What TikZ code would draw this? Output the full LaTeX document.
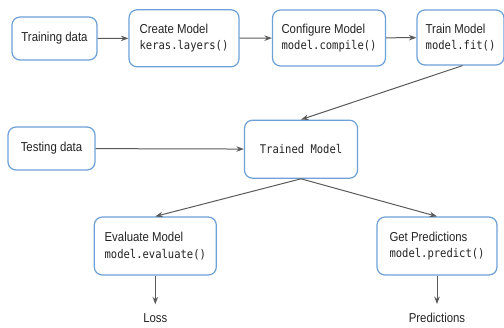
\documentclass[tikz,border=0pt]{standalone}
\usepackage{fontspec}
\setmainfont{Liberation Sans}[FakeStretch=0.88]
\setmonofont{DejaVu Sans Mono}[FakeStretch=0.88]
\usetikzlibrary{arrows.meta}
\definecolor{boxblue}{RGB}{108,160,214}
\definecolor{flowgray}{RGB}{90,90,90}
\definecolor{inkgray}{RGB}{35,35,35}
\newcommand{\apicall}[1]{{\fontsize{12}{16.3}\selectfont\ttfamily #1}}
\tikzset{
  stepbox/.style={draw=boxblue, line width=1.2bp, rounded corners=8bp, fill=white,
    align=left, inner sep=0pt, text=inkgray, font=\fontsize{13}{16.3}\selectfont},
  outlabel/.style={text=inkgray, font=\fontsize{13}{15}\selectfont, inner sep=0pt},
  flow/.style={draw=flowgray, line width=1bp, -{Stealth[length=7.5bp,width=5.5bp]}},
}
\begin{document}
\begin{tikzpicture}[x=1bp,y=-1bp]
  \useasboundingbox (0,0) rectangle (504,327);
  % top row
  \node[stepbox, minimum width=85bp, minimum height=43bp] (traindata) at (54.5,38.5) {Training data};
  \node[stepbox, minimum width=110bp, minimum height=57bp] (create) at (184,38.3) {Create Model\\\apicall{keras.layers()}};
  \node[stepbox, minimum width=113bp, minimum height=56bp] (configure) at (329,38) {Configure Model\\\apicall{model.compile()}};
  \node[stepbox, minimum width=87bp, minimum height=55bp] (fit) at (460.5,37.5) {Train Model\\\apicall{model.fit()}};
  % middle row
  \node[stepbox, minimum width=113bp, minimum height=58bp, align=center] (trained) at (301,149.2) {\apicall{Trained Model}};
  \node[stepbox, minimum width=87bp, minimum height=43bp] (testdata) at (51.5,148.5) {Testing data};
  % bottom row
  \node[stepbox, minimum width=122bp, minimum height=58bp] (evaluate) at (155.3,246) {Evaluate Model\\\apicall{model.evaluate()}};
  \node[stepbox, minimum width=120bp, minimum height=58bp] (predict) at (437,246) {Get Predictions\\\apicall{model.predict()}};
  \node[outlabel] (loss) at (155.3,318) {Loss};
  \node[outlabel] (preds) at (437,318) {Predictions};
  % connectors
  \draw[flow] (traindata) -- (create);
  \draw[flow] (create) -- (configure);
  \draw[flow] (configure) -- (fit);
  \draw[flow] ([xshift=2bp]fit.south) -- (trained.north);
  \draw[flow] (testdata) -- (trained);
  \draw[flow] (trained.south) -- (evaluate.north);
  \draw[flow] (trained.south) -- (predict.north);
  \draw[flow, shorten >=9bp] (evaluate.south) -- (loss.north);
  \draw[flow, shorten >=9bp] (predict.south) -- (preds.north);
\end{tikzpicture}
\end{document}
